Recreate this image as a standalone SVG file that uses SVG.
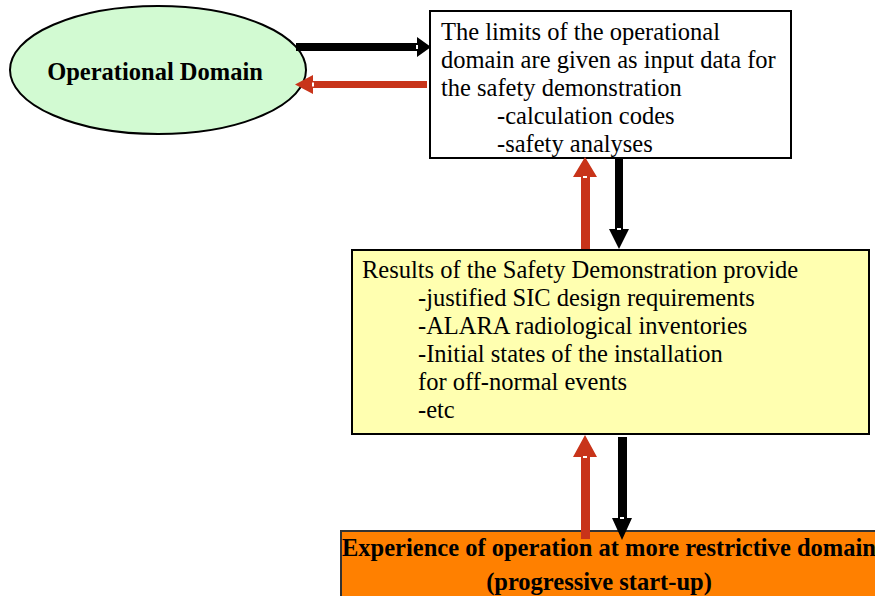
<svg xmlns="http://www.w3.org/2000/svg" width="875" height="596" viewBox="0 0 875 596">
  <style>
    .txt { font-family: "Liberation Serif", "Times New Roman", serif; font-size: 24.5px; fill: #000; }
    .bold { font-weight: bold; }
    .box { stroke: #000; stroke-width: 2; }
    .fwd { fill: #000; }
    .back { fill: #C8341A; }
    .tick { fill: #fff; }
  </style>
  <rect width="875" height="596" fill="#fff"/>

  <g id="operational-domain">
    <ellipse cx="158" cy="70" rx="148" ry="64" fill="#D2FAD2" stroke="#000" stroke-width="2"/>
    <text class="txt bold" x="155" y="80" text-anchor="middle" font-size="23.4">Operational Domain</text>
  </g>

  <g id="limits-box">
    <rect class="box" x="430" y="11" width="361" height="147" fill="#fff"/>
    <text class="txt" x="441" y="40">The limits of the operational</text>
    <text class="txt" x="441" y="68">domain are given as input data for</text>
    <text class="txt" x="441" y="96">the safety demonstration</text>
    <text class="txt" x="497" y="124">-calculation codes</text>
    <text class="txt" x="497" y="152">-safety analyses</text>
  </g>

  <g id="results-box">
    <rect class="box" x="352" y="250" width="517" height="184" fill="#FFFFB0"/>
    <text class="txt" x="362" y="278" font-size="24.2">Results of the Safety Demonstration provide</text>
    <text class="txt" x="418" y="306" font-size="24.4">-justified SIC design requirements</text>
    <text class="txt" x="418" y="334" font-size="24.4">-ALARA radiological inventories</text>
    <text class="txt" x="418" y="362" font-size="24.4">-Initial states of the installation</text>
    <text class="txt" x="418" y="390" font-size="24.4">for off-normal events</text>
    <text class="txt" x="418" y="418" font-size="24.4">-etc</text>
  </g>

  <g id="experience-box">
    <rect x="341" y="531" width="560" height="80" fill="#FF8000" stroke="#333" stroke-width="2"/>
    <text class="txt bold" x="342" y="556">Experience of operation at more restrictive domain</text>
    <text class="txt bold" x="599" y="590" text-anchor="middle">(progressive start-up)</text>
  </g>

  <g id="connectors">
    <!-- domain limits handed to the demonstration -->
    <polygon class="fwd" points="296,43 417,43 417,37 431,47 417,57 417,51 296,51"/>
    <rect class="tick" x="416" y="45" width="2" height="4"/>
    <!-- feedback back to the operational domain -->
    <polygon class="back" points="427,81 313,81 313,75 295,84.5 313,94 313,88 427,88"/>
    <rect class="tick" x="312" y="82.5" width="2" height="4"/>

    <!-- limits box down to results -->
    <polygon class="fwd" points="615,158 623,158 623,229 629,229 619,249 609,229 615,229"/>
    <rect class="tick" x="617" y="228" width="4" height="2"/>
    <!-- results back up to limits box -->
    <polygon class="back" points="581,249 590,249 590,177 597,177 585,157 573,177 581,177"/>
    <rect class="tick" x="583" y="176" width="4" height="2"/>

    <!-- results down to operating experience -->
    <polygon class="fwd" points="618,437 627,437 627,518 632,518 622,540 612,518 618,518"/>
    <rect class="tick" x="620" y="517" width="4" height="2"/>
    <!-- operating experience back up to results -->
    <polygon class="back" points="581,539 590,539 590,457 597,457 585,435 573,457 581,457"/>
    <rect class="tick" x="583" y="456" width="4" height="2"/>
  </g>
</svg>
